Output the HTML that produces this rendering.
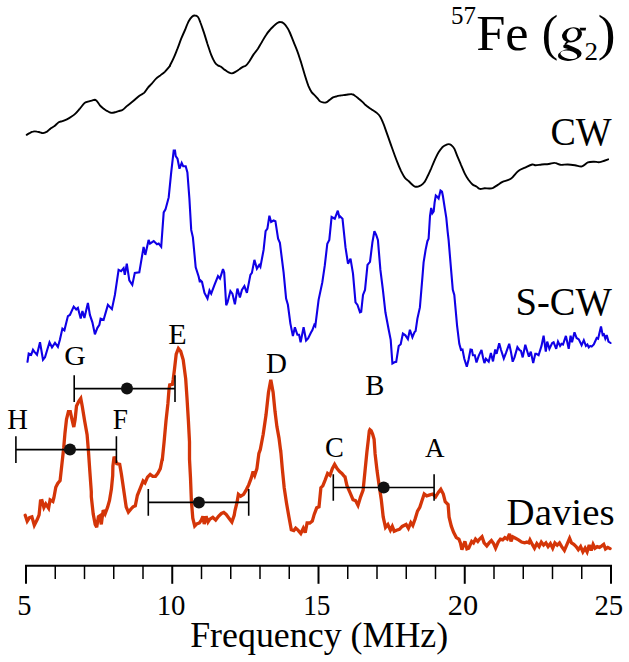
<!DOCTYPE html>
<html><head><meta charset="utf-8"><title>57Fe ENDOR</title>
<style>
html,body{margin:0;padding:0;background:#fff;}
body{width:629px;height:662px;overflow:hidden;position:relative;font-family:"Liberation Serif",serif;color:#000;}
svg{position:absolute;left:0;top:0;}
.t{position:absolute;white-space:nowrap;line-height:1;}
</style></head><body>
<svg width="629" height="662" viewBox="0 0 629 662">
<rect width="629" height="662" fill="#fff"/>
<path d="M26.7,134.8 C27.3,134.5 28.9,133.3 30.0,132.8 C31.0,132.3 31.8,131.8 33.0,131.6 C34.1,131.3 35.8,131.4 37.0,131.6 C38.1,131.7 39.0,132.1 40.0,132.3 C41.0,132.6 41.8,133.2 43.0,133.1 C44.1,132.9 45.7,132.3 47.0,131.6 C48.2,130.8 49.2,129.5 50.5,128.6 C51.7,127.6 53.1,127.1 54.5,126.1 C55.8,125.0 57.4,123.2 58.7,122.3 C60.0,121.5 61.1,121.6 62.4,121.1 C63.8,120.6 65.5,120.0 66.9,119.3 C68.4,118.6 69.8,117.8 71.2,116.8 C72.6,115.9 74.0,115.0 75.4,113.6 C76.9,112.2 78.4,110.3 79.9,108.6 C81.4,106.8 83.1,104.3 84.4,103.1 C85.7,101.9 86.7,102.0 87.9,101.6 C89.1,101.2 90.7,100.9 91.9,100.6 C93.1,100.3 94.1,99.8 94.9,99.8 C95.7,99.9 96.0,100.2 96.9,101.1 C97.7,102.0 98.8,104.1 99.9,105.3 C101.0,106.6 102.4,107.6 103.6,108.6 C104.9,109.5 106.1,110.4 107.4,111.1 C108.6,111.8 109.9,112.6 111.1,112.8 C112.4,113.0 113.6,112.6 114.9,112.3 C116.1,112.0 117.3,111.5 118.6,111.1 C119.9,110.7 121.5,110.7 122.8,109.8 C124.2,109.0 125.5,107.3 126.8,106.1 C128.2,104.9 129.7,104.0 131.1,102.8 C132.5,101.7 133.9,100.6 135.3,99.3 C136.8,98.1 138.4,96.4 139.8,95.4 C141.3,94.3 142.7,94.1 144.1,92.9 C145.4,91.6 146.5,89.4 147.8,87.9 C149.1,86.3 150.4,85.2 151.8,83.6 C153.2,82.1 154.6,80.0 156.1,78.6 C157.5,77.3 158.8,76.5 160.3,75.4 C161.7,74.3 163.2,73.4 164.8,71.9 C166.4,70.3 168.9,67.2 169.8,66.2 C170.7,65.1 169.3,66.8 170.0,65.4 C170.7,64.0 172.5,60.7 173.7,57.9 C175.0,55.1 176.2,51.9 177.5,48.7 C178.7,45.5 180.0,41.8 181.2,38.7 C182.5,35.6 183.7,32.9 185.0,30.0 C186.2,27.0 187.6,23.4 188.7,21.2 C189.9,19.0 190.9,17.7 192.0,16.7 C193.0,15.8 194.0,15.4 195.0,15.5 C196.0,15.5 197.0,15.8 198.0,17.0 C198.9,18.1 199.5,20.0 200.4,22.5 C201.4,25.0 202.5,28.4 203.7,31.9 C204.9,35.5 206.2,39.9 207.4,43.7 C208.7,47.5 209.9,51.8 211.2,54.9 C212.4,58.0 213.8,60.7 214.9,62.4 C216.1,64.2 216.9,64.7 217.9,65.4 C219.0,66.1 220.0,66.2 221.2,66.9 C222.3,67.7 223.7,69.0 224.9,69.9 C226.2,70.8 227.5,71.8 228.7,72.4 C229.8,73.0 230.8,73.5 231.9,73.4 C233.0,73.3 234.2,72.6 235.4,71.9 C236.6,71.2 238.2,70.0 239.4,69.2 C240.6,68.3 241.8,67.5 242.9,66.9 C244.0,66.3 245.1,66.4 246.1,65.4 C247.2,64.4 248.1,63.0 249.4,61.2 C250.6,59.3 252.2,56.5 253.6,54.4 C255.0,52.3 256.5,50.8 257.9,48.7 C259.2,46.6 260.5,44.2 261.9,41.9 C263.2,39.7 264.8,36.9 266.1,35.0 C267.4,33.0 268.6,31.4 269.9,30.0 C271.1,28.5 272.3,27.4 273.6,26.2 C274.8,25.0 276.2,23.7 277.3,23.0 C278.5,22.3 279.3,21.9 280.3,22.0 C281.4,22.0 282.5,22.4 283.6,23.2 C284.7,24.1 285.8,25.4 286.8,27.0 C287.9,28.5 288.7,30.0 289.8,32.5 C290.9,34.9 292.3,38.8 293.6,41.9 C294.8,45.1 296.1,47.8 297.3,51.2 C298.6,54.6 299.8,58.5 301.1,62.4 C302.3,66.4 303.6,70.9 304.8,74.9 C306.0,78.8 307.4,83.2 308.5,86.1 C309.7,89.0 310.8,90.8 311.8,92.4 C312.8,93.9 313.8,94.3 314.8,95.4 C315.8,96.4 316.9,97.6 317.8,98.6 C318.6,99.6 319.1,100.5 320.0,101.2 C320.9,101.8 322.0,102.2 323.0,102.4 C324.0,102.6 325.2,102.8 326.2,102.4 C327.3,102.0 328.4,100.8 329.5,99.9 C330.6,99.1 331.7,98.1 333.0,97.4 C334.2,96.8 335.6,96.5 337.0,96.2 C338.3,95.8 339.7,95.7 341.2,95.4 C342.8,95.2 344.4,94.9 346.2,94.7 C348.0,94.5 350.5,94.0 351.9,94.2 C353.4,94.3 353.8,94.9 354.9,95.7 C356.1,96.4 357.4,97.6 358.7,98.7 C359.9,99.7 361.4,101.0 362.4,101.9 C363.5,102.9 363.9,103.5 364.9,104.4 C366.0,105.3 367.4,106.5 368.7,107.4 C369.9,108.3 371.2,109.1 372.4,109.9 C373.7,110.7 374.9,111.4 376.2,112.4 C377.4,113.5 378.8,114.5 379.9,116.2 C381.0,117.8 381.9,119.9 382.9,122.4 C384.0,124.9 385.0,127.9 386.1,131.1 C387.3,134.4 388.7,138.3 389.9,141.9 C391.1,145.4 392.4,148.9 393.6,152.3 C394.9,155.8 396.1,159.2 397.4,162.3 C398.6,165.5 399.9,168.5 401.1,171.1 C402.4,173.6 403.6,176.1 404.9,177.8 C406.1,179.5 407.5,180.0 408.6,181.1 C409.8,182.1 410.8,183.4 411.9,184.3 C412.9,185.2 413.9,186.2 414.9,186.6 C415.9,186.9 416.8,186.8 417.9,186.6 C418.9,186.3 420.0,186.0 421.1,185.3 C422.2,184.6 423.3,183.7 424.3,182.3 C425.4,180.9 426.2,179.1 427.3,176.8 C428.5,174.5 429.8,171.4 431.1,168.6 C432.3,165.7 433.6,162.5 434.8,159.8 C436.1,157.1 437.3,154.4 438.6,152.3 C439.8,150.3 441.1,148.6 442.3,147.3 C443.6,146.1 445.0,145.4 446.1,144.9 C447.1,144.3 447.7,144.1 448.6,144.1 C449.4,144.1 450.1,144.1 451.1,144.9 C452.0,145.6 453.3,146.7 454.3,148.6 C455.3,150.5 456.2,153.4 457.3,156.1 C458.4,158.8 459.8,161.9 461.0,164.8 C462.3,167.7 463.5,171.1 464.8,173.6 C466.0,176.1 467.3,178.0 468.5,179.8 C469.8,181.6 470.9,183.1 472.3,184.3 C473.6,185.5 475.5,186.0 476.8,186.8 C478.0,187.6 478.7,188.7 480.0,188.9 C481.3,189.2 483.2,188.3 484.7,188.2 C486.3,188.2 488.1,188.6 489.5,188.5 C490.9,188.4 491.7,188.4 493.1,187.8 C494.4,187.2 496.2,185.9 497.8,184.9 C499.4,183.9 500.4,182.9 502.5,181.8 C504.7,180.8 508.3,180.5 510.8,178.8 C513.4,177.0 515.6,173.0 518.0,171.2 C520.3,169.3 522.7,168.7 525.1,167.6 C527.4,166.5 530.4,164.9 532.2,164.5 C534.0,164.1 534.2,165.2 535.7,165.2 C537.3,165.2 539.5,164.7 541.7,164.5 C543.8,164.3 546.6,164.3 548.8,164.0 C551.0,163.8 552.7,162.7 554.7,162.9 C556.7,163.0 558.5,164.5 560.6,164.8 C562.8,165.0 565.4,164.4 567.8,164.5 C570.1,164.6 572.5,164.9 574.9,165.2 C577.3,165.5 579.8,166.9 582.0,166.4 C584.2,165.9 585.9,163.2 587.9,162.4 C589.9,161.6 591.9,161.7 593.9,161.7 C595.8,161.6 597.4,162.5 599.8,162.1 C602.2,161.7 606.7,159.8 608.1,159.3" fill="none" stroke="#000" stroke-width="1.9" stroke-linejoin="round" stroke-linecap="round"/>
<path d="M27.5,361.8 L28.7,353.5 L31.2,354.8 L33.0,349.8 L34.5,351.8 L37.0,354.8 L40.0,342.3 L43.0,359.8 L45.0,357.3 L49.5,342.3 L52.0,347.3 L55.0,342.8 L57.9,346.8 L59.9,339.8 L62.4,328.6 L64.4,330.3 L67.9,316.1 L69.9,314.9 L73.7,306.6 L76.2,309.4 L77.9,307.9 L80.7,318.6 L82.4,311.1 L84.4,317.9 L87.9,302.9 L89.9,314.9 L92.4,322.3 L94.9,334.3 L97.4,327.8 L99.4,324.8 L100.6,318.6 L103.6,319.8 L107.9,304.9 L111.9,309.1 L114.9,294.9 L118.6,269.9 L121.1,271.2 L123.6,268.2 L124.8,274.9 L126.8,263.7 L129.3,280.4 L132.3,284.9 L134.8,272.9 L139.3,272.4 L143.6,246.9 L145.3,254.9 L148.6,240.0 L150.0,243.6 L153.7,241.1 L157.0,244.3 L158.7,243.6 L161.2,246.8 L163.7,212.4 L165.5,209.4 L168.7,197.4 L171.2,172.4 L173.7,150.5 L175.0,150.5 L175.7,156.2 L177.5,158.7 L179.5,168.7 L181.7,163.0 L183.2,166.2 L185.7,166.2 L187.4,172.4 L189.4,198.7 L191.2,229.9 L192.9,237.3 L195.7,267.3 L198.7,276.8 L199.9,282.3 L200.0,279.9 L202.0,281.9 L204.5,292.9 L207.5,298.6 L209.5,290.4 L211.2,293.6 L214.5,284.9 L218.0,276.1 L220.0,278.6 L223.0,269.1 L224.2,272.4 L226.2,305.3 L227.5,302.4 L230.4,291.1 L232.4,293.6 L234.9,304.3 L237.4,288.6 L239.9,297.4 L241.9,289.9 L244.4,286.1 L246.9,292.9 L250.4,274.9 L251.9,272.9 L254.4,259.9 L256.9,268.6 L259.2,264.9 L260.4,266.9 L263.6,249.9 L265.6,231.2 L267.4,228.7 L269.4,215.7 L271.1,222.0 L273.6,220.5 L275.4,221.2 L278.1,238.7 L279.9,242.9 L283.6,272.4 L286.1,298.6 L287.9,304.8 L290.4,323.6 L292.9,336.1 L294.9,327.3 L297.4,334.8 L299.1,334.8 L300.6,342.3 L303.6,327.3 L306.1,340.5 L308.1,338.5 L311.1,332.3 L312.3,330.3 L314.3,324.8 L315.3,326.1 L318.6,299.9 L322.3,282.4 L324.8,265.4 L327.3,243.7 L329.3,239.9 L331.6,217.0 L334.8,218.7 L337.8,210.7 L339.3,217.0 L340.0,216.2 L342.5,218.7 L345.5,247.4 L348.0,263.7 L350.5,258.7 L353.0,273.6 L355.5,302.4 L357.5,304.9 L360.0,312.3 L361.2,311.8 L363.0,294.9 L365.0,289.9 L367.5,264.9 L370.0,261.9 L372.4,242.4 L374.4,231.2 L376.2,235.0 L377.9,239.9 L380.4,269.9 L382.9,289.9 L385.4,312.3 L388.7,329.8 L390.7,339.8 L392.4,363.5 L394.4,362.3 L396.2,361.8 L398.7,346.0 L400.7,344.3 L402.9,333.6 L405.4,335.3 L407.9,339.1 L409.9,329.8 L412.4,337.3 L414.4,332.3 L415.6,331.1 L417.4,318.6 L419.9,307.4 L422.4,277.4 L423.6,262.4 L425.6,249.9 L427.4,241.2 L428.6,238.7 L430.0,216.0 L431.2,207.9 L432.4,213.2 L433.7,211.3 L434.6,202.7 L435.8,195.5 L437.0,196.5 L438.6,198.4 L440.5,190.5 L442.0,191.7 L442.9,196.0 L444.8,208.4 L446.3,217.9 L447.7,232.2 L448.6,239.9 L451.1,269.9 L452.8,289.9 L454.3,294.9 L457.1,325.8 L459.3,343.8 L461.0,349.9 L462.5,349.5 L464.3,358.8 L466.8,366.7 L468.6,359.5 L470.5,349.5 L471.9,349.9 L472.9,355.2 L474.8,355.2 L476.5,362.4 L478.7,355.9 L481.5,349.9 L483.0,357.4 L484.4,363.1 L485.9,358.8 L488.7,361.7 L490.9,353.1 L493.0,361.4 L495.2,349.5 L496.6,353.8 L499.2,343.3 L500.9,349.5 L503.8,358.5 L505.9,353.1 L509.2,343.8 L510.9,351.6 L512.7,361.7 L514.5,357.4 L517.4,347.1 L519.6,350.2 L521.0,350.9 L522.7,357.4 L525.3,344.8 L526.7,349.5 L528.9,356.7 L530.8,351.6 L533.2,363.1 L535.3,353.8 L536.4,353.8 L538.6,355.2 L541.5,345.9 L543.6,335.6 L545.8,351.6 L547.2,341.6 L549.4,348.8 L552.2,343.0 L553.6,342.3 L556.2,348.8 L558.0,341.6 L560.1,345.9 L561.5,343.8 L563.0,344.5 L565.9,335.9 L568.7,348.8 L570.6,335.6 L572.0,342.3 L574.5,332.3 L576.6,338.0 L578.8,339.4 L581.6,345.2 L583.8,340.2 L585.9,345.9 L587.4,344.5 L588.8,347.4 L590.2,345.9 L591.7,346.6 L593.8,344.5 L596.7,338.0 L598.1,338.7 L601.0,326.5 L602.7,335.1 L603.9,334.4 L605.3,338.7 L606.7,335.1 L608.5,341.6 L610.6,343.0" fill="none" stroke="#1000e6" stroke-width="2.1" stroke-linejoin="miter" stroke-miterlimit="3" stroke-linecap="round"/>
<path d="M25.2,515.3 L27.2,521.3 L29.5,517.7 L31.9,516.8 L34.3,525.3 L37.2,519.6 L39.1,514.9 L40.5,501.0 L42.0,500.7 L43.9,507.5 L45.8,503.9 L48.6,508.2 L50.1,499.8 L52.9,501.5 L53.9,497.7 L55.8,487.2 L57.7,483.4 L60.1,480.5 L61.8,465.1 L63.7,448.0 L65.0,432.7 L66.5,419.4 L68.4,411.7 L70.3,411.7 L72.2,420.3 L73.8,427.0 L75.1,419.4 L76.5,406.0 L78.9,401.2 L80.8,398.4 L82.2,406.0 L84.7,421.3 L87.1,434.6 L88.5,451.8 L89.8,470.9 L91.3,491.9 L91.3,496.7 L93.2,513.9 L95.2,524.4 L96.7,527.2 L98.4,516.8 L99.9,515.8 L101.3,524.4 L103.2,510.1 L105.1,513.9 L107.6,507.2 L109.5,500.5 L111.4,489.1 L112.7,475.7 L112.9,466.0 L114.1,456.6 L116.7,463.6 L119.7,464.3 L121.3,473.4 L122.7,482.9 L124.3,494.0 L125.6,503.0 L126.2,507.0 L128.4,512.2 L131.0,509.0 L133.0,506.8 L135.3,505.8 L137.4,495.3 L139.3,490.6 L141.2,485.8 L143.1,481.0 L145.0,482.9 L147.5,477.2 L150.2,474.4 L152.7,476.3 L155.5,476.3 L157.8,473.4 L160.3,468.6 L162.2,459.1 L162.2,460.9 L164.1,441.9 L166.0,420.9 L167.9,403.7 L169.0,389.5 L169.7,384.9 L172.4,384.4 L173.2,379.5 L174.4,370.0 L176.2,354.1 L178.4,348.4 L180.7,351.2 L183.2,359.8 L185.7,378.9 L187.0,398.0 L188.4,420.9 L189.5,441.9 L189.5,459.1 L190.5,478.2 L191.4,501.1 L192.8,518.2 L194.7,525.9 L196.6,524.0 L199.4,523.0 L201.3,520.1 L202.9,516.3 L204.2,524.0 L206.1,516.3 L208.0,522.1 L209.9,519.2 L212.8,517.3 L215.7,520.1 L218.5,516.3 L221.4,513.5 L223.8,512.5 L226.2,514.4 L229.0,518.2 L231.9,522.1 L234.2,515.4 L235.0,510.6 L236.9,503.0 L238.4,494.4 L240.7,496.3 L243.6,494.4 L246.4,489.6 L248.7,484.9 L251.2,478.2 L253.1,471.5 L254.7,475.3 L256.9,468.6 L258.9,453.4 L260.3,449.5 L263.2,434.2 L266.0,415.1 L268.5,392.2 L270.8,379.9 L273.1,392.2 L275.0,411.3 L276.9,426.6 L279.0,438.1 L280.7,451.4 L280.8,451.4 L282.3,468.6 L284.2,487.7 L286.5,503.0 L288.8,516.3 L291.3,529.7 L293.8,530.6 L295.7,528.2 L298.0,530.1 L300.8,533.5 L303.3,528.2 L305.2,532.6 L307.1,523.0 L309.8,523.0 L312.3,521.1 L314.2,514.4 L316.7,507.8 L319.0,506.8 L320.9,487.7 L322.8,485.8 L325.1,480.1 L327.6,473.4 L330.0,475.3 L332.3,468.6 L334.6,464.4 L337.1,468.6 L339.6,471.5 L341.9,473.4 L344.2,476.3 L345.0,476.8 L346.9,485.4 L349.8,492.1 L353.0,499.7 L355.5,500.6 L358.0,505.4 L360.6,496.8 L363.1,490.1 L365.0,471.1 L366.9,452.0 L368.4,439.1 L369.3,431.0 L369.9,429.7 L371.2,430.8 L372.6,434.0 L374.1,439.3 L375.1,453.9 L377.1,471.1 L379.0,484.4 L381.3,499.7 L383.2,516.9 L385.5,527.4 L387.9,524.5 L390.4,530.2 L392.3,526.4 L394.2,531.2 L396.5,530.2 L399.4,529.3 L402.2,526.4 L406.1,524.5 L408.4,528.3 L410.8,522.6 L412.8,525.5 L415.2,518.8 L417.5,511.1 L419.8,507.3 L421.7,501.6 L424.2,494.0 L426.7,495.9 L429.9,494.9 L432.8,494.0 L435.6,496.8 L438.5,492.1 L440.8,489.2 L443.3,494.0 L445.2,501.6 L448.1,504.5 L449.1,517.2 L451.3,526.2 L453.6,532.3 L456.3,537.6 L458.9,539.1 L460.4,542.9 L461.9,549.7 L464.9,541.4 L466.9,548.9 L468.7,548.2 L471.7,541.4 L473.5,542.9 L475.5,539.1 L477.8,541.4 L479.6,539.1 L482.0,536.8 L484.1,542.9 L486.8,545.9 L489.1,542.9 L491.4,540.6 L493.6,543.6 L495.6,548.2 L498.2,542.1 L500.4,539.1 L502.7,539.9 L504.9,537.6 L507.2,539.1 L509.5,533.8 L511.0,541.4 L512.8,536.8 L515.5,538.3 L518.5,539.9 L521.6,542.1 L524.6,542.9 L526.9,542.1 L528.8,542.9 L530.0,539.9 L532.3,544.4 L534.5,548.2 L536.8,543.6 L539.1,546.6 L541.3,542.1 L543.6,545.1 L545.9,542.9 L548.1,546.6 L550.4,543.6 L552.7,548.2 L554.9,542.9 L557.2,545.1 L559.5,542.9 L561.7,546.6 L564.4,550.4 L567.0,544.4 L569.6,538.3 L571.5,542.9 L573.8,544.4 L576.1,546.6 L578.3,549.7 L580.6,546.6 L582.9,551.9 L585.1,548.2 L587.1,551.9 L589.2,545.1 L591.2,550.4 L593.1,544.4 L595.0,548.2 L597.2,546.6 L599.5,547.4 L601.8,545.9 L603.7,544.4 L605.5,548.9 L607.8,547.4 L610.1,548.6" fill="none" stroke="#d43508" stroke-width="3.3" stroke-linejoin="miter" stroke-miterlimit="3" stroke-linecap="round"/>
<path d="M25.00,565.75 H612.00" stroke="#000" stroke-width="2" fill="none"/>
<path d="M26.00,565.75 V583.8" stroke="#000" stroke-width="2" fill="none"/>
<path d="M55.25,565.75 V579.1" stroke="#000" stroke-width="1.5" fill="none"/>
<path d="M84.50,565.75 V579.1" stroke="#000" stroke-width="1.5" fill="none"/>
<path d="M113.75,565.75 V579.1" stroke="#000" stroke-width="1.5" fill="none"/>
<path d="M143.00,565.75 V579.1" stroke="#000" stroke-width="1.5" fill="none"/>
<path d="M172.25,565.75 V583.8" stroke="#000" stroke-width="2" fill="none"/>
<path d="M201.50,565.75 V579.1" stroke="#000" stroke-width="1.5" fill="none"/>
<path d="M230.75,565.75 V579.1" stroke="#000" stroke-width="1.5" fill="none"/>
<path d="M260.00,565.75 V579.1" stroke="#000" stroke-width="1.5" fill="none"/>
<path d="M289.25,565.75 V579.1" stroke="#000" stroke-width="1.5" fill="none"/>
<path d="M318.50,565.75 V583.8" stroke="#000" stroke-width="2" fill="none"/>
<path d="M347.75,565.75 V579.1" stroke="#000" stroke-width="1.5" fill="none"/>
<path d="M377.00,565.75 V579.1" stroke="#000" stroke-width="1.5" fill="none"/>
<path d="M406.25,565.75 V579.1" stroke="#000" stroke-width="1.5" fill="none"/>
<path d="M435.50,565.75 V579.1" stroke="#000" stroke-width="1.5" fill="none"/>
<path d="M464.75,565.75 V583.8" stroke="#000" stroke-width="2" fill="none"/>
<path d="M494.00,565.75 V579.1" stroke="#000" stroke-width="1.5" fill="none"/>
<path d="M523.25,565.75 V579.1" stroke="#000" stroke-width="1.5" fill="none"/>
<path d="M552.50,565.75 V579.1" stroke="#000" stroke-width="1.5" fill="none"/>
<path d="M581.75,565.75 V579.1" stroke="#000" stroke-width="1.5" fill="none"/>
<path d="M611.00,565.75 V583.8" stroke="#000" stroke-width="2" fill="none"/>

<path d="M74.2,388.6 H175.0 M74.2,375.3 V401.90000000000003 M175.0,375.3 V401.90000000000003" stroke="#000" stroke-width="1.6" fill="none"/><circle cx="127.0" cy="388.6" r="6.0" fill="#111"/>
<path d="M15.9,449.6 H116.4 M15.9,436.3 V462.90000000000003 M116.4,436.3 V462.90000000000003" stroke="#000" stroke-width="1.6" fill="none"/><circle cx="70.0" cy="449.6" r="6.0" fill="#111"/>
<path d="M148.3,502.4 H248.7 M148.3,489.09999999999997 V515.6999999999999 M248.7,489.09999999999997 V515.6999999999999" stroke="#000" stroke-width="1.6" fill="none"/><circle cx="198.9" cy="502.4" r="6.0" fill="#111"/>
<path d="M333.3,487.5 H434.1 M333.3,474.2 V500.8 M434.1,474.2 V500.8" stroke="#000" stroke-width="1.6" fill="none"/><circle cx="383.7" cy="487.5" r="6.0" fill="#111"/>
<g font-family="Liberation Serif, serif" fill="#000"><text transform="matrix(0.9600,0,0,1.0000,451.03,24.20)" font-size="26">57</text>
<text transform="matrix(1.0391,0,0,1.0000,476.18,50.00)" font-size="50.5">Fe</text>
<text transform="matrix(0.9884,0,0,1.0197,541.86,49.55)" font-size="50">(</text>
<text transform="matrix(1.0393,0,0,1.0000,584.56,60.40)" font-size="26">2</text>
<text transform="matrix(1.0692,0,0,1.0197,597.63,49.55)" font-size="50">)</text>
<text transform="matrix(0.9624,0,0,1.0053,550.41,145.38)" font-size="39.5">CW</text>
<text transform="matrix(0.9757,0,0,1.0163,515.49,314.67)" font-size="39.5">S-CW</text>
<text transform="matrix(1.0178,0,0,1.0000,506.59,524.50)" font-size="38.2">Davies</text>
<text transform="matrix(1.0027,0,0,1.0000,190.14,647.00)" font-size="35.8">Frequency (MHz)</text>
<text transform="matrix(0.9545,0,0,1.0000,17.37,615.30)" font-size="29.8">5</text>
<text transform="matrix(0.9683,0,0,1.0000,156.65,615.30)" font-size="29.8">10</text>
<text transform="matrix(0.9156,0,0,1.0000,303.17,615.30)" font-size="29.8">15</text>
<text transform="matrix(1.0201,0,0,1.0000,447.75,615.30)" font-size="29.8">20</text>
<text transform="matrix(0.9664,0,0,1.0000,594.40,615.30)" font-size="29.8">25</text>
<text transform="matrix(1.0445,0,0,0.9799,64.27,364.76)" font-size="28.5">G</text>
<text transform="matrix(1.0054,0,0,1.0319,7.35,428.60)" font-size="28.5">H</text>
<text transform="matrix(0.9595,0,0,1.0319,112.67,428.60)" font-size="28.5">F</text>
<text transform="matrix(1.0586,0,0,1.0373,168.33,343.60)" font-size="28.5">E</text>
<text transform="matrix(1.0184,0,0,1.0027,265.95,373.15)" font-size="28.5">D</text>
<text transform="matrix(0.9928,0,0,1.0003,325.02,456.55)" font-size="28.5">C</text>
<text transform="matrix(1.0076,0,0,1.0027,365.25,395.15)" font-size="28.5">B</text>
<text transform="matrix(0.9471,0,0,0.9922,425.00,456.70)" font-size="28.5">A</text>
</g><g transform="translate(553,22) scale(0.060423)" fill="#000" stroke="none">
<ellipse cx="315" cy="212" rx="168" ry="122" transform="rotate(-15 315 212)"/>
<ellipse cx="318" cy="208" rx="88" ry="106" transform="rotate(27 318 208)" fill="#fff"/>
<path d="M440,95 L548,95 L540,142 L455,142 Z"/>
<path d="M225,318 L262,332 L215,372 L190,365 Z"/>
<ellipse cx="278" cy="542" rx="196" ry="100" transform="rotate(-6 278 542)"/>
<ellipse cx="262" cy="542" rx="142" ry="66" transform="rotate(11 262 542)" fill="#fff"/>
<path d="M168,395 L200,364 L250,376 L330,408 L420,450 L465,505 L440,540 L380,490 L300,460 L215,440 L175,425 Z"/>
</g>
</svg>
<!--TEXT-->
</body></html>
